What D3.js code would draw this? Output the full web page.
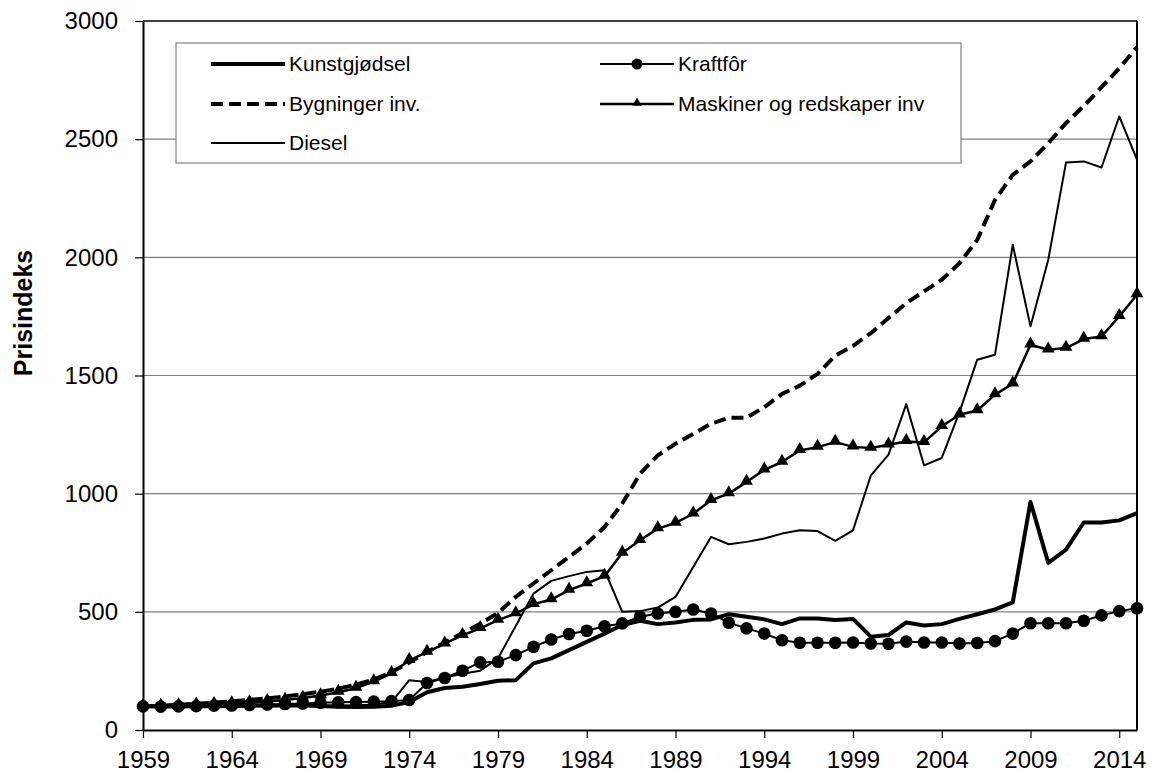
<!DOCTYPE html>
<html>
<head>
<meta charset="utf-8">
<script src="https://cdn.jsdelivr.net/npm/d3@7"></script>
<style>
  body { margin: 0; background: #fff; }
  svg { display: block; font-family: Arial, "Liberation Sans", sans-serif; }
</style>
</head>
<body>
<svg id="chart" width="1155" height="774"></svg>
<script>
// Years 1959-2015
const years = d3.range(1959, 2016);

const kunstgjodsel = [100, 99, 99, 100, 101, 102, 103, 104, 104, 104, 102, 98, 97, 98, 103, 118, 160, 178, 183, 195,
  208, 211, 282, 303, 338, 373, 408, 444, 462, 448, 455, 466, 468, 490, 479, 468, 448, 472, 472, 465,
  470, 395, 402, 455, 442, 448, 470, 490, 510, 540, 965, 707, 763, 878, 878, 887, 918];

const kraftfor = [100, 99, 100, 101, 103, 104, 106, 108, 110, 112, 115, 117, 118, 120, 122, 127, 199, 220, 251, 286,
  289, 317, 352, 383, 406, 420, 439, 451, 479, 493, 500, 510, 493, 454, 430, 408, 380, 369, 369, 369,
  370, 366, 365, 374, 370, 370, 366, 368, 376, 408, 452, 452, 452, 462, 485, 503, 515];

const bygninger = [100, 103, 107, 111, 116, 121, 127, 134, 142, 151, 162, 175, 192, 213, 245, 285, 330, 370, 410, 450,
  495, 563, 620, 676, 732, 789, 859, 958, 1084, 1162, 1211, 1253, 1296, 1321, 1321, 1366, 1422, 1457, 1507, 1584,
  1625, 1679, 1743, 1806, 1856, 1905, 1975, 2074, 2243, 2349, 2406, 2483, 2568, 2640, 2720, 2800, 2890];

const maskiner = [100, 101, 103, 106, 109, 112, 116, 121, 127, 135, 146, 160, 177, 205, 240, 295, 330, 365, 401, 430,
  465, 493, 532, 552, 592, 620, 651, 749, 803, 852, 876, 915, 972, 1000, 1049, 1101, 1134, 1183, 1197, 1218,
  1198, 1193, 1207, 1221, 1217, 1285, 1334, 1352, 1419, 1465, 1630, 1609, 1616, 1654, 1665, 1750, 1842];

const diesel = [100, 100, 100, 100, 100, 100, 101, 101, 102, 102, 103, 104, 105, 107, 118, 211, 203, 222, 238, 251,
  303, 440, 577, 631, 651, 669, 676, 500, 503, 518, 563, 690, 817, 786, 796, 810, 831, 845, 842, 800,
  845, 1076, 1165, 1379, 1120, 1151, 1345, 1567, 1588, 2053, 1708, 1990, 2401, 2406, 2380, 2596, 2413];

const yTicks = [0, 500, 1000, 1500, 2000, 2500, 3000];
const xTicks = d3.range(1959, 2015, 5);

const series = [
  { name: 'Kunstgjødsel', values: kunstgjodsel, width: 4, dash: null, marker: null },
  { name: 'Kraftfôr', values: kraftfor, width: 2, dash: null, marker: 'circle' },
  { name: 'Bygninger inv.', values: bygninger, width: 4, dash: '12,6', marker: null },
  { name: 'Maskiner og redskaper inv', values: maskiner, width: 2.5, dash: null, marker: 'triangle' },
  { name: 'Diesel', values: diesel, width: 2, dash: null, marker: null }
];

const W = 1155, H = 774;
const margin = { top: 21, right: 18, bottom: 44, left: 143 };

const svg = d3.select('#chart');

const x = d3.scaleLinear().domain([1959, 2015]).range([margin.left, W - margin.right]);
const y = d3.scaleLinear().domain([0, 3000]).range([H - margin.bottom, margin.top]);

// Gridlines
svg.append('g')
  .selectAll('line')
  .data(yTicks.filter(d => d > 0 && d < 3000))
  .enter().append('line')
  .attr('x1', x(1959)).attr('x2', x(2015))
  .attr('y1', d => y(d)).attr('y2', d => y(d))
  .attr('stroke', '#808080')
  .attr('stroke-width', 1.2);

// Frame top and right
svg.append('line')
  .attr('x1', x(1959)).attr('x2', x(2015))
  .attr('y1', y(3000)).attr('y2', y(3000))
  .attr('stroke', '#000').attr('stroke-width', 1.5);
svg.append('line')
  .attr('x1', x(2015)).attr('x2', x(2015))
  .attr('y1', y(3000)).attr('y2', y(0))
  .attr('stroke', '#000').attr('stroke-width', 2);

// Axes
const yAxis = svg.append('g')
  .attr('transform', `translate(${margin.left},0)`)
  .call(d3.axisLeft(y).tickValues(yTicks).tickFormat(d3.format('d')).tickSize(8).tickPadding(17).tickSizeOuter(0));

const xAxis = svg.append('g')
  .attr('transform', `translate(0,${H - margin.bottom})`)
  .call(d3.axisBottom(x).tickValues(xTicks).tickFormat(d3.format('d')).tickSize(8).tickPadding(13).tickSizeOuter(0));

[yAxis, xAxis].forEach(a => {
  a.select('.domain').attr('stroke', '#000').attr('stroke-width', 2);
  a.selectAll('.tick line').attr('stroke', '#000').attr('stroke-width', 1.2);
  a.selectAll('.tick text')
    .attr('fill', '#000')
    .attr('font-size', '24px')
    .attr('font-family', 'Arial, "Liberation Sans", sans-serif');
});

// Y title
svg.append('text')
  .attr('transform', `translate(32,313) rotate(-90)`)
  .attr('text-anchor', 'middle')
  .attr('font-size', '25px')
  .attr('font-weight', 'bold')
  .text('Prisindeks');

// Lines
const line = d3.line()
  .x((d, i) => x(years[i]))
  .y(d => y(d));

const triangle = d3.symbol().type(d3.symbolTriangle);

series.forEach(s => {
  svg.append('path')
    .datum(s.values)
    .attr('fill', 'none')
    .attr('stroke', '#000')
    .attr('stroke-width', s.width)
    .attr('stroke-dasharray', s.dash)
    .attr('stroke-linejoin', 'round')
    .attr('d', line);

  if (s.marker === 'circle') {
    svg.append('g').selectAll('circle')
      .data(s.values)
      .enter().append('circle')
      .attr('cx', (d, i) => x(years[i]))
      .attr('cy', d => y(d))
      .attr('r', 6.3)
      .attr('fill', '#000');
  } else if (s.marker === 'triangle') {
    svg.append('g').selectAll('path')
      .data(s.values)
      .enter().append('path')
      .attr('transform', (d, i) => `translate(${x(years[i])},${y(d) - 1})`)
      .attr('d', triangle.size(70)())
      .attr('fill', '#000');
  }
});

// Legend
const legend = svg.append('g');
legend.append('rect')
  .attr('x', 176).attr('y', 43)
  .attr('width', 785).attr('height', 120)
  .attr('fill', '#fff')
  .attr('stroke', '#808080')
  .attr('stroke-width', 1.2);

const legendPos = [
  { x: 211, y: 64 }, { x: 600, y: 64 },
  { x: 211, y: 104 }, { x: 600, y: 104 },
  { x: 211, y: 143 }
];

series.forEach((s, i) => {
  const p = legendPos[i];
  const g = legend.append('g').attr('transform', `translate(${p.x},${p.y})`);
  g.append('line')
    .attr('x1', 0).attr('x2', 74)
    .attr('y1', 0).attr('y2', 0)
    .attr('stroke', '#000')
    .attr('stroke-width', s.width)
    .attr('stroke-dasharray', s.dash);
  if (s.marker === 'circle') {
    g.append('circle').attr('cx', 37).attr('cy', 0).attr('r', 5.5).attr('fill', '#000');
  } else if (s.marker === 'triangle') {
    g.append('path').attr('transform', 'translate(37,-1)').attr('d', triangle.size(40)()).attr('fill', '#000');
  }
  g.append('text')
    .attr('x', 78)
    .attr('y', 0)
    .attr('dy', '0.35em')
    .attr('font-size', '21px')
    .text(s.name);
});
</script>
</body>
</html>
